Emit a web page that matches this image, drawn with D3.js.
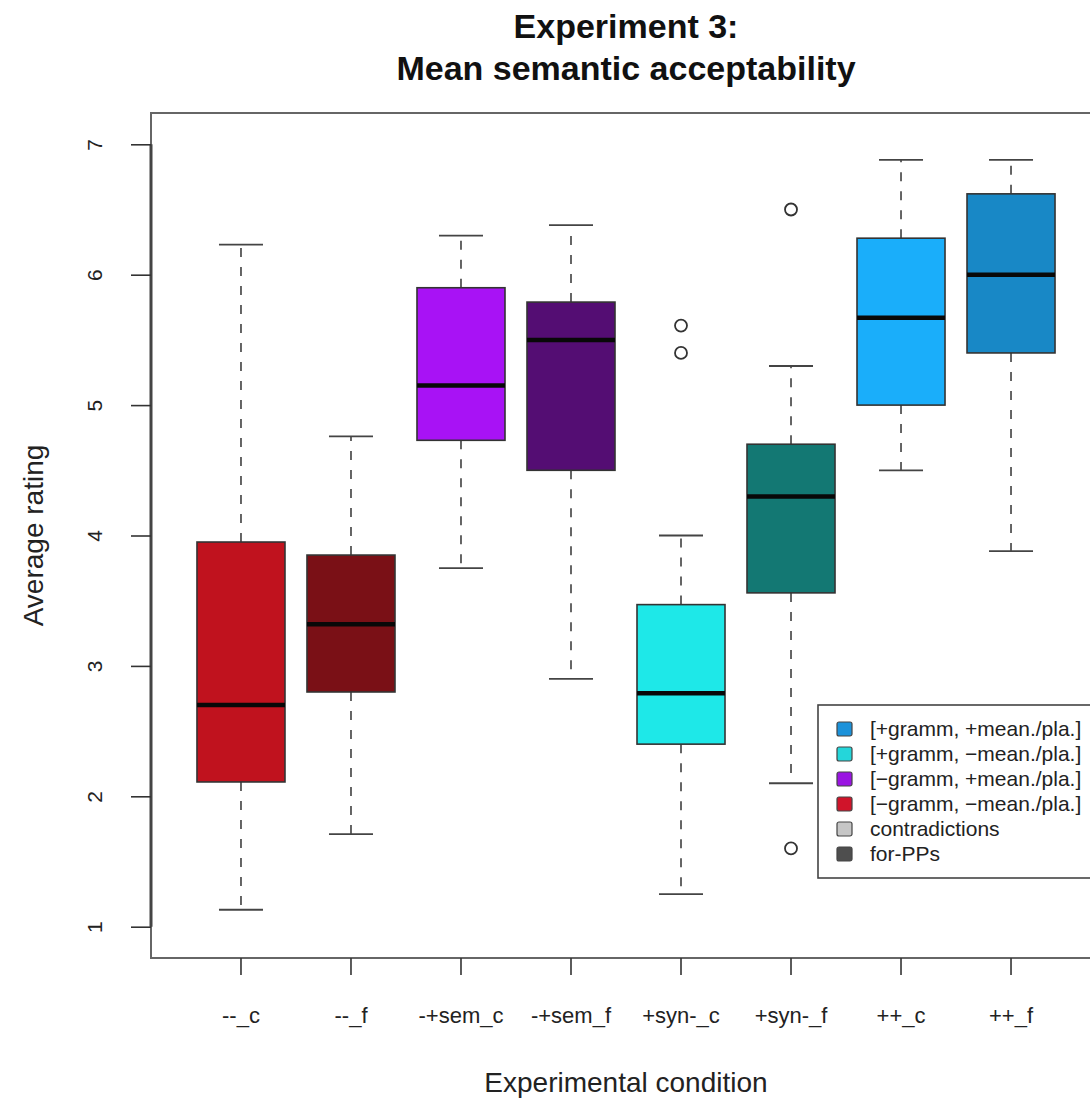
<!DOCTYPE html>
<html>
<head>
<meta charset="utf-8">
<script src="https://cdn.jsdelivr.net/npm/d3@7"></script>
<style>
  html, body { margin: 0; padding: 0; background: #fff; }
  svg { display: block; }
  text { font-family: "Liberation Sans", Arial, Helvetica, sans-serif; }
</style>
</head>
<body>
<script>
// Conditions on the x axis
const categories = ["--_c", "--_f", "-+sem_c", "-+sem_f", "+syn-_c", "+syn-_f", "++_c", "++_f"];

// Box-plot summaries per condition (average rating)
const whiskerHigh = [6.23, 4.76, 6.30, 6.38, 4.00, 5.30, 6.88, 6.88];
const upperQuartile = [3.95, 3.85, 5.90, 5.79, 3.47, 4.70, 6.28, 6.62];
const medians = [2.70, 3.32, 5.15, 5.50, 2.79, 4.30, 5.67, 6.00];
const lowerQuartile = [2.11, 2.80, 4.73, 4.50, 2.40, 3.56, 5.00, 5.40];
const whiskerLow = [1.13, 1.71, 3.75, 2.90, 1.25, 2.10, 4.50, 3.88];
const outliers = [[], [], [], [], [5.61, 5.40], [6.50, 1.60], [], []];

// Fill colour per condition
const boxColors = ["#c0121e", "#7a1016", "#a812f5", "#540d73", "#1ee8e8", "#137873", "#1aaefa", "#1888c6"];

// Y axis ticks
const yTicks = [1, 2, 3, 4, 5, 6, 7];

// Legend
const legendLabels = ["[+gramm, +mean./pla.]", "[+gramm, \u2212mean./pla.]", "[\u2212gramm, +mean./pla.]",
                      "[\u2212gramm, \u2212mean./pla.]", "contradictions", "for-PPs"];
const legendColors = ["#1c92da", "#24d6da", "#9a14e2", "#d0142a", "#c6c6c6", "#4e4e4e"];

const W = 1090, H = 1099;
const plot = { left: 151, top: 113, right: 1101, bottom: 958 };

const svg = d3.select("body").append("svg")
  .attr("width", W).attr("height", H)
  .attr("viewBox", `0 0 ${W} ${H}`);

const x = d3.scaleBand()
  .domain(categories)
  .range([plot.left, plot.right])
  .paddingInner(0.2)
  .paddingOuter(0.418);

const y = d3.scaleLinear()
  .domain([0.76, 7.24])
  .range([plot.bottom, plot.top]);

const bw = x.bandwidth();
const cx = c => x(c) + bw / 2;

const rows = categories.map((c, i) => ({
  c, i,
  hi: whiskerHigh[i], q3: upperQuartile[i], med: medians[i],
  q1: lowerQuartile[i], lo: whiskerLow[i], out: outliers[i], fill: boxColors[i]
}));

const g = svg.append("g");

// Whiskers (dashed)
g.selectAll(".wh-up").data(rows).join("line")
  .attr("x1", d => cx(d.c)).attr("x2", d => cx(d.c))
  .attr("y1", d => y(d.q3)).attr("y2", d => y(d.hi))
  .attr("stroke", "#555").attr("stroke-width", 1.8).attr("stroke-dasharray", "9,10");
g.selectAll(".wh-lo").data(rows).join("line")
  .attr("x1", d => cx(d.c)).attr("x2", d => cx(d.c))
  .attr("y1", d => y(d.q1)).attr("y2", d => y(d.lo))
  .attr("stroke", "#555").attr("stroke-width", 1.8).attr("stroke-dasharray", "9,10");

// Whisker caps
["hi", "lo"].forEach(k => {
  g.selectAll(".cap-" + k).data(rows).join("line")
    .attr("x1", d => cx(d.c) - bw / 4).attr("x2", d => cx(d.c) + bw / 4)
    .attr("y1", d => y(d[k])).attr("y2", d => y(d[k]))
    .attr("stroke", "#444").attr("stroke-width", 1.8);
});

// Boxes
g.selectAll(".box").data(rows).join("rect")
  .attr("x", d => x(d.c)).attr("width", bw)
  .attr("y", d => y(d.q3)).attr("height", d => y(d.q1) - y(d.q3))
  .attr("fill", d => d.fill)
  .attr("stroke", "#333").attr("stroke-width", 1.6);

// Medians
g.selectAll(".med").data(rows).join("line")
  .attr("x1", d => x(d.c)).attr("x2", d => x(d.c) + bw)
  .attr("y1", d => y(d.med)).attr("y2", d => y(d.med))
  .attr("stroke", "#080808").attr("stroke-width", 4.5);

// Outliers
const outPts = rows.flatMap(d => d.out.map(v => ({ c: d.c, v })));
g.selectAll(".out").data(outPts).join("circle")
  .attr("cx", d => cx(d.c)).attr("cy", d => y(d.v)).attr("r", 6)
  .attr("fill", "none").attr("stroke", "#333").attr("stroke-width", 1.8);

// Plot frame
svg.append("rect")
  .attr("x", plot.left).attr("y", plot.top)
  .attr("width", plot.right - plot.left).attr("height", plot.bottom - plot.top)
  .attr("fill", "none").attr("stroke", "#666").attr("stroke-width", 2);

// Y axis
const yAxis = d3.axisLeft(y).tickValues(yTicks).tickSize(20).tickPadding(0).tickFormat(d3.format("d"));
const ya = svg.append("g").attr("transform", `translate(${plot.left},0)`).call(yAxis);
ya.select(".domain").attr("d", `M0,${y(1)}V${y(7)}`).attr("stroke", "#444").attr("stroke-width", 3);
ya.selectAll(".tick line").attr("stroke", "#333").attr("stroke-width", 1.6);
ya.selectAll(".tick text")
  .attr("x", 0).attr("dy", 0)
  .attr("transform", "translate(-56,0) rotate(-90)")
  .attr("text-anchor", "middle").attr("dy", "0.35em")
  .attr("font-size", 21).attr("fill", "#222");

// X axis
const xAxis = d3.axisBottom(x).tickSize(17).tickPadding(0);
const xa = svg.append("g").attr("transform", `translate(0,${plot.bottom})`).call(xAxis);
xa.select(".domain").remove();
xa.selectAll(".tick line").attr("stroke", "#333").attr("stroke-width", 1.6);
xa.selectAll(".tick text")
  .attr("y", 65).attr("dy", 0)
  .attr("font-size", 22).attr("fill", "#222");

// Titles
const midX = (plot.left + plot.right) / 2;
svg.append("text").attr("x", midX).attr("y", 38).attr("text-anchor", "middle")
  .attr("font-size", 34).attr("font-weight", "bold").attr("fill", "#111").text("Experiment 3:");
svg.append("text").attr("x", midX).attr("y", 80).attr("text-anchor", "middle")
  .attr("font-size", 34).attr("font-weight", "bold").attr("fill", "#111").text("Mean semantic acceptability");

svg.append("text").attr("x", midX).attr("y", 1092).attr("text-anchor", "middle")
  .attr("font-size", 28).attr("fill", "#222").text("Experimental condition");
svg.append("text")
  .attr("transform", `translate(43,${(plot.top + plot.bottom) / 2}) rotate(-90)`)
  .attr("text-anchor", "middle")
  .attr("font-size", 28).attr("fill", "#222").text("Average rating");

// Legend
const lg = svg.append("g").attr("transform", "translate(818,705)");
lg.append("rect").attr("x", 0).attr("y", 0).attr("width", 300).attr("height", 173)
  .attr("fill", "#fff").attr("stroke", "#444").attr("stroke-width", 1.6);
const items = lg.selectAll(".item").data(legendLabels).join("g")
  .attr("transform", (d, i) => `translate(0,${24 + i * 25})`);
items.append("rect").attr("x", 19).attr("y", -7).attr("width", 15).attr("height", 14).attr("rx", 2)
  .attr("fill", (d, i) => legendColors[i]).attr("stroke", "#444").attr("stroke-width", 1.2);
items.append("text").attr("x", 52).attr("dy", "0.35em")
  .attr("font-size", 21).attr("fill", "#222").text(d => d);
</script>
</body>
</html>
